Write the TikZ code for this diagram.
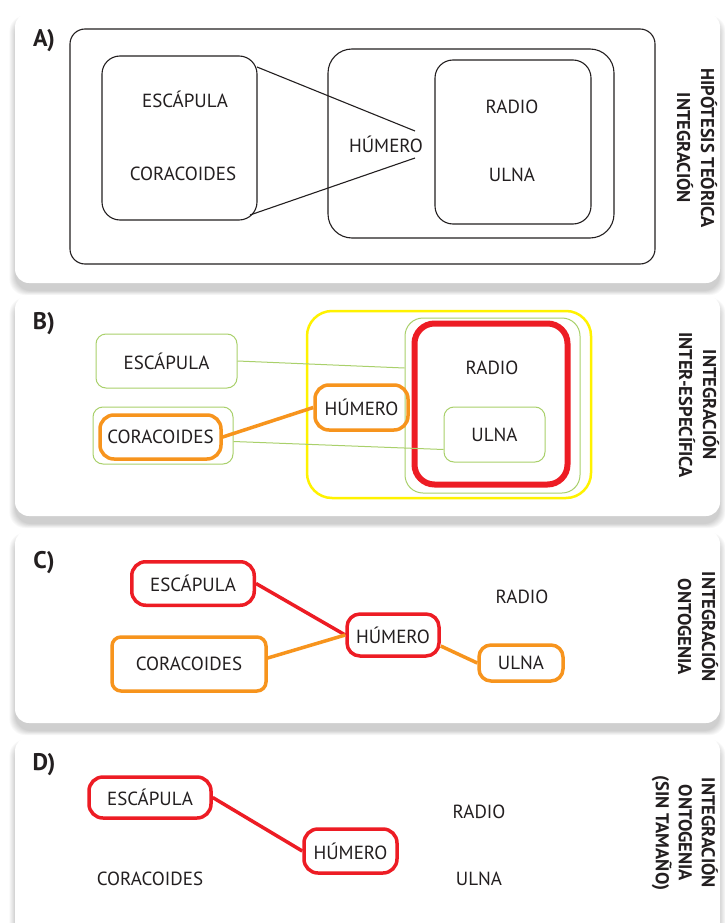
\documentclass[tikz,border=0pt]{standalone}
\usepackage{fontspec}
\setmainfont{PT Sans}
\usetikzlibrary{calc}

\definecolor{ink}{HTML}{231F20}
\definecolor{rojo}{HTML}{ED1C24}
\definecolor{naranja}{HTML}{F7941D}
\definecolor{amarillo}{HTML}{FFF200}
\definecolor{verde}{HTML}{A9D06B}

\tikzset{
  lbl/.style={font=\fontsize{19}{21}\selectfont, text=ink, inner sep=0pt},
  tag/.style={font=\bfseries\fontsize{24}{26}\selectfont, text=ink, inner sep=0pt},
  side/.style={font=\bfseries\fontsize{18.5}{24}\selectfont, text=ink, rotate=-90,
    align=center, inner sep=0pt},
  frame/.style={draw=ink, line width=1.1pt, inner sep=0pt, fill=none},
  thin/.style={draw=verde, line width=1pt, inner sep=0pt, rounded corners=10pt},
  redbox/.style={draw=rojo, line width=3.5pt, inner sep=0pt, rounded corners=14pt,
    font=\fontsize{19}{21}\selectfont, text=ink},
  orbox/.style={draw=naranja, line width=3.5pt, inner sep=0pt, rounded corners=14pt,
    font=\fontsize{19}{21}\selectfont, text=ink},
  blackline/.style={draw=ink, line width=1.1pt},
  greenline/.style={draw=verde, line width=1pt},
  redline/.style={draw=rojo, line width=3.5pt},
  orline/.style={draw=naranja, line width=3.5pt},
}

% white card with a soft shadow under it
\newcommand\card[4]{%
  \foreach \k in {0,...,7}{
    \fill[black, opacity=0.022, rounded corners=16pt]
      (#1-\k*0.8, #2+6-\k*0.5) rectangle (#3+\k*0.8, #4+8+\k*0.6);
  }
  \fill[white, rounded corners=14pt] (#1,#2) rectangle (#3,#4);
}

\begin{document}
\begin{tikzpicture}[x=1pt, y=-1pt]
\useasboundingbox (0,0) rectangle (724,923);
\fill[white] (0,0) rectangle (724,923);

% ---------------- A ----------------
\card{15}{13}{720}{283}
\node[tag] (tagA) at (44,40.5) {A)};
\node[frame, rounded corners=15pt, minimum width=585pt, minimum height=235pt] (outerA) at (362.5,146.5) {};
\node[frame, rounded corners=18pt, minimum width=155pt, minimum height=164pt] (shoulderA) at (179.5,138) {};
\node[frame, rounded corners=24pt, minimum width=286pt, minimum height=189pt] (armA) at (471,143.5) {};
\node[frame, rounded corners=18pt, minimum width=156pt, minimum height=164pt] (forearmA) at (513,142) {};
\node[lbl] (escA) at (185,99) {ESCÁPULA};
\node[lbl] (corA) at (183,174) {CORACOIDES};
\node[lbl] (humA) at (386,144) {HÚMERO};
\node[lbl] (radA) at (512,107) {RADIO};
\node[lbl] (ulnA) at (512,175) {ULNA};
\coordinate (sA1) at (257,67);
\coordinate (sA2) at (250,215);
\coordinate (hA1) at (415,131);
\coordinate (hA2) at (415,158);
\draw[blackline] (sA1) -- (hA1);
\draw[blackline] (sA2) -- (hA2);
\node[side] (sideA) at (697,148) {HIPÓTESIS TEÓRICA\\INTEGRACIÓN};

% ---------------- B ----------------
\card{15}{295}{720}{516}
\node[tag] (tagB) at (44,324) {B)};
\node[draw=amarillo, line width=2.5pt, rounded corners=25pt, inner sep=0pt,
  minimum width=284pt, minimum height=187pt] (yelB) at (449,404.5) {};
\node[thin, rounded corners=18pt, minimum width=175pt, minimum height=175pt] (grnB) at (492.5,405.5) {};
\node[draw=rojo, line width=6pt, rounded corners=20pt, inner sep=0pt,
  minimum width=153pt, minimum height=161pt] (redB) at (491,404) {};
\node[thin, minimum width=141pt, minimum height=54pt, lbl] (escB) at (166.5,361) {ESCÁPULA};
\node[thin, minimum width=140pt, minimum height=57pt] (corBo) at (163,435.5) {};
\node[orbox, minimum width=121pt, minimum height=44pt] (corB) at (160.5,437) {CORACOIDES};
\node[orbox, minimum width=93pt, minimum height=45pt] (humB) at (361.5,407.5) {HÚMERO};
\node[lbl] (radB) at (492,368) {RADIO};
\node[thin, minimum width=101pt, minimum height=55pt, lbl] (ulnB) at (494.5,434.5) {ULNA};
\draw[greenline] (escB.east) -- (grnB.west |- radB);
\draw[greenline] ($(corBo.east)+(0,6)$) -- ($(ulnB.west)+(0,15)$);
\draw[orline] (corB.east) -- (humB.west);
\node[side] (sideB) at (699,405) {INTEGRACIÓN\\INTER-ESPECÍFICA};

% ---------------- C ----------------
\card{15}{530}{720}{723}
\node[tag] (tagC) at (44,563) {C)};
\node[redbox, minimum width=122.5pt, minimum height=43.5pt] (escC) at (193,583.5) {ESCÁPULA};
\node[orbox, rounded corners=9pt, minimum width=154pt, minimum height=54pt] (corC) at (189,664) {CORACOIDES};
\node[redbox, rounded corners=13pt, minimum width=92pt, minimum height=42pt] (humC) at (393,635) {HÚMERO};
\node[orbox, rounded corners=12pt, minimum width=84pt, minimum height=36pt] (ulnC) at (521,663) {ULNA};
\node[lbl] (radC) at (522,597) {RADIO};
\draw[redline] (escC.east) -- (humC.west);
\draw[orline] ($(corC.east)+(0,-6)$) -- (humC.west);
\draw[orline] ($(humC.east)+(0,11)$) -- (ulnC.west);
\node[side] (sideC) at (698,627) {INTEGRACIÓN\\ONTOGENIA};

% ---------------- D ----------------
\card{15}{737}{720}{945}
\node[tag] (tagD) at (44,765) {D)};
\node[redbox, minimum width=122pt, minimum height=41pt] (escD) at (150,797.5) {ESCÁPULA};
\node[redbox, minimum width=93pt, minimum height=44pt] (humD) at (350.5,851) {HÚMERO};
\node[lbl] (corD) at (150,879) {CORACOIDES};
\node[lbl] (radD) at (479,812) {RADIO};
\node[lbl] (ulnD) at (479,879) {ULNA};
\draw[redline] (escD.east) -- (humD.west);
\node[side, font=\bfseries\fontsize{18.5}{23}\selectfont] (sideD) at (685,833) {INTEGRACIÓN\\ONTOGENIA\\(SIN TAMAÑO)};
\end{tikzpicture}
\end{document}
